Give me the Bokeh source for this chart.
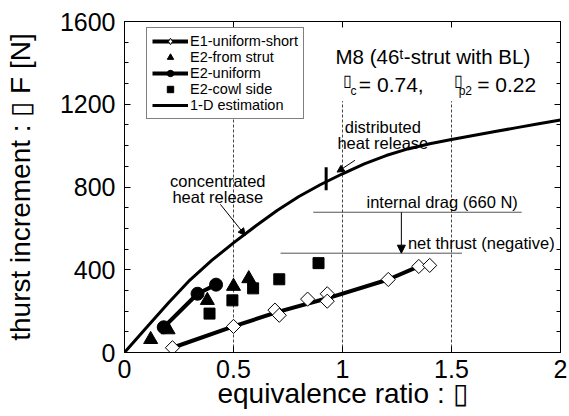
import numpy as np
from bokeh.plotting import figure
from bokeh.models import (LinearAxis, Range1d, FixedTicker, Legend, LegendItem,
                          Arrow, NormalHead)
from bokeh.embed import file_html
from bokeh.resources import INLINE
from bokeh.core.properties import value

# ---------------- data ----------------
e1_phi = [0.22, 0.50, 0.69, 0.71, 0.84, 0.93, 0.93, 1.21, 1.35, 1.40]
e1_F   = [23, 126, 205, 180, 258, 284, 248, 353, 416, 421]
e1_fit_phi = [0.22, 0.50, 0.70, 0.93, 1.21, 1.35]
e1_fit_F   = [23, 126, 195, 262, 353, 416]

strut_phi = [0.12, 0.20, 0.38, 0.50, 0.57]
strut_F   = [63, 110, 252, 320, 357]

uni_phi = [0.18, 0.335, 0.42]
uni_F   = [122, 284, 328]

cowl_phi = [0.39, 0.495, 0.59, 0.71, 0.89]
cowl_F   = [188, 252, 310, 354, 432]

est_phi = [0, 0.1, 0.2, 0.3, 0.4, 0.5, 0.6, 0.7, 0.8, 0.9, 1.0, 1.1, 1.2,
           1.3, 1.4, 1.5, 1.6, 1.7, 1.8, 1.9, 2.0]
est_F   = [0, 120, 238, 350, 445, 530, 610, 686, 754, 812, 864, 912, 952,
           984, 1009, 1030, 1049, 1068, 1087, 1106, 1124]

x_ticks = [0, 0.5, 1, 1.5, 2]
x_tick_labels = ["0", "0.5", "1", "1.5", "2"]
y_ticks = [0, 400, 800, 1200, 1600]
y_minor = list(range(0, 1601, 100))

drag_F = 678        # internal drag line level
net_F = 480         # net thrust line level
split_phi = 0.925   # distributed / concentrated boundary mark

FONT = "Liberation Sans"
BOX = "\u25af"

p = figure(width=569, height=416, output_backend="svg", toolbar_location=None,
           x_range=Range1d(0, 2), y_range=Range1d(0, 1600),
           min_border_left=124, min_border_right=9, min_border_top=21,
           min_border_bottom=64)
p.grid.visible = False
p.outline_line_color = "black"
p.outline_line_width = 1
p.background_fill_color = "white"
p.border_fill_color = "white"

def style_axis(ax, labels=True):
    ax.axis_line_color = "black"
    ax.major_tick_in = 6
    ax.major_tick_out = 0
    ax.minor_tick_in = 4
    ax.minor_tick_out = 0
    ax.major_tick_line_color = "black"
    ax.major_label_text_font = FONT
    ax.axis_label_text_font = FONT
    ax.axis_label_text_font_style = "normal"
    ax.axis_label_text_font_size = "28px"
    ax.axis_label_text_color = "black"
    ax.major_label_text_font_size = "25px"
    if labels:
        ax.major_label_text_color = "black"
    else:
        ax.major_label_text_color = None
        ax.major_label_standoff = 0

xax = p.xaxis[0]
xax.ticker = FixedTicker(ticks=x_ticks)
xax.major_label_overrides = {t: l for t, l in zip(x_ticks, x_tick_labels)}
style_axis(xax)
xax.minor_tick_line_color = None
xax.major_label_standoff = 7
xax.axis_label = "equivalence ratio : " + BOX
xax.axis_label_standoff = -3

yax = p.yaxis[0]
yax.ticker = FixedTicker(ticks=y_ticks, minor_ticks=y_minor)
style_axis(yax)
yax.major_label_standoff = 9
yax.axis_label = "thurst increment : " + BOX + " F [N]"
yax.axis_label_standoff = 21

rax = LinearAxis(ticker=FixedTicker(ticks=y_ticks, minor_ticks=y_minor))
style_axis(rax, labels=False)
p.add_layout(rax, "right")

tax = LinearAxis(ticker=FixedTicker(ticks=x_ticks))
style_axis(tax, labels=False)
tax.minor_tick_line_color = None
p.add_layout(tax, "above")

# reference dashed lines
p.segment(x0=x_ticks[1:4], y0=[0, 0, 0], x1=x_ticks[1:4], y1=[1215, 1215, 1215],
          line_color="#444444", line_width=1, line_dash="3 2")

# drag / net thrust lines
p.segment(x0=[0.866, 0.716], y0=[drag_F, net_F], x1=[1.822, 1.548], y1=[drag_F, net_F],
          line_color="#555555", line_width=1)
p.add_layout(Arrow(end=NormalHead(size=8, fill_color="black", line_color="black"),
                   x_start=1.27, y_start=drag_F, x_end=1.27, y_end=net_F,
                   line_color="black", line_width=1))

# 1-D estimation
r_est = p.line(est_phi, est_F, line_color="black", line_width=3)
# split mark
p.segment(x0=[split_phi], y0=[784], x1=[split_phi], y1=[895], line_color="black", line_width=3)

# E1 fit line + markers
r_e1l = p.line(e1_fit_phi, e1_fit_F, line_color="black", line_width=4)
r_e1m = p.scatter(e1_phi, e1_F, marker="square", angle=np.pi / 4, size=10,
                  fill_color="white", line_color="black", line_width=1)
# legend-only glyph (no visible point)
r_e1leg = p.scatter(x=np.array([np.nan]), y=np.array([np.nan]), marker="diamond",
                    fill_color="white", line_color="black", line_width=1)
# E2 from strut
r_str = p.scatter(strut_phi, strut_F, marker="triangle", size=14,
                  fill_color="black", line_color="black")
# E2 cowl side
r_cow = p.scatter(cowl_phi, cowl_F, marker="square", size=11,
                  fill_color="black", line_color="black")
# E2 uniform
r_unl = p.line(uni_phi, uni_F, line_color="black", line_width=4)
r_unm = p.scatter(uni_phi, uni_F, marker="circle", size=13,
                  fill_color="black", line_color="black")

# annotation arrows
head = dict(size=7, fill_color="black", line_color="black")
p.add_layout(Arrow(end=NormalHead(**head), x_start=0.44, y_start=716, x_end=0.554, y_end=566,
                   line_color="black", line_width=1))
p.add_layout(Arrow(end=NormalHead(**head), x_start=1.057, y_start=929, x_end=0.975, y_end=872,
                   line_color="black", line_width=1))

# notes
p.text(x=[0.428, 0.428, 1.185, 1.185], y=[831, 752, 1088, 1015],
       text=["concentrated", "heat release", "distributed", "heat release"],
       text_font=value(FONT), text_font_size=value("16.5px"), text_align="center",
       text_baseline="alphabetic", text_color="black")
p.text(x=[1.11, 1.30], y=[726, 527], text=["internal drag (660 N)", "net thrust (negative)"],
       text_font=value(FONT), text_font_size=value("16.5px"), text_align="left",
       text_baseline="alphabetic", text_color="black")

# condition box
p.text(x=[0.968], y=[1429], text=["M8 (46\u1d57-strut with BL)"],
       text_font=value(FONT), text_font_size=value("20.5px"), text_baseline="alphabetic",
       text_color="black")
p.text(x=[1.0, 1.511], y=[1316, 1316], text=[BOX, BOX],
       text_font=value(FONT), text_font_size=value("16px"), text_baseline="alphabetic",
       text_color="black")
p.text(x=[1.075, 1.618], y=[1295, 1295], text=["= 0.74,", "= 0.22"],
       text_font=value(FONT), text_font_size=value("21px"), text_baseline="alphabetic",
       text_color="black")
p.text(x=[1.037, 1.533], y=[1262, 1262], text=["c", "p2"],
       text_font=value(FONT), text_font_size=value("12px"), text_baseline="alphabetic",
       text_color="black")

legend = Legend(items=[
    LegendItem(label="E1-uniform-short", renderers=[r_e1l, r_e1leg]),
    LegendItem(label="E2-from strut", renderers=[r_str]),
    LegendItem(label="E2-uniform", renderers=[r_unl, r_unm]),
    LegendItem(label="E2-cowl side", renderers=[r_cow]),
    LegendItem(label="1-D estimation", renderers=[r_est]),
], location=(22, 233))
legend.label_text_font = FONT
legend.label_text_font_size = "14.5px"
legend.label_text_color = "black"
legend.glyph_width = 36
legend.glyph_height = 16
legend.label_height = 16
legend.spacing = 0
legend.padding = 5
legend.margin = 0
legend.label_standoff = 2
legend.border_line_color = "black"
legend.border_line_width = 1
legend.background_fill_alpha = 1
p.add_layout(legend)

open("out.html", "w").write(file_html(p, INLINE))
